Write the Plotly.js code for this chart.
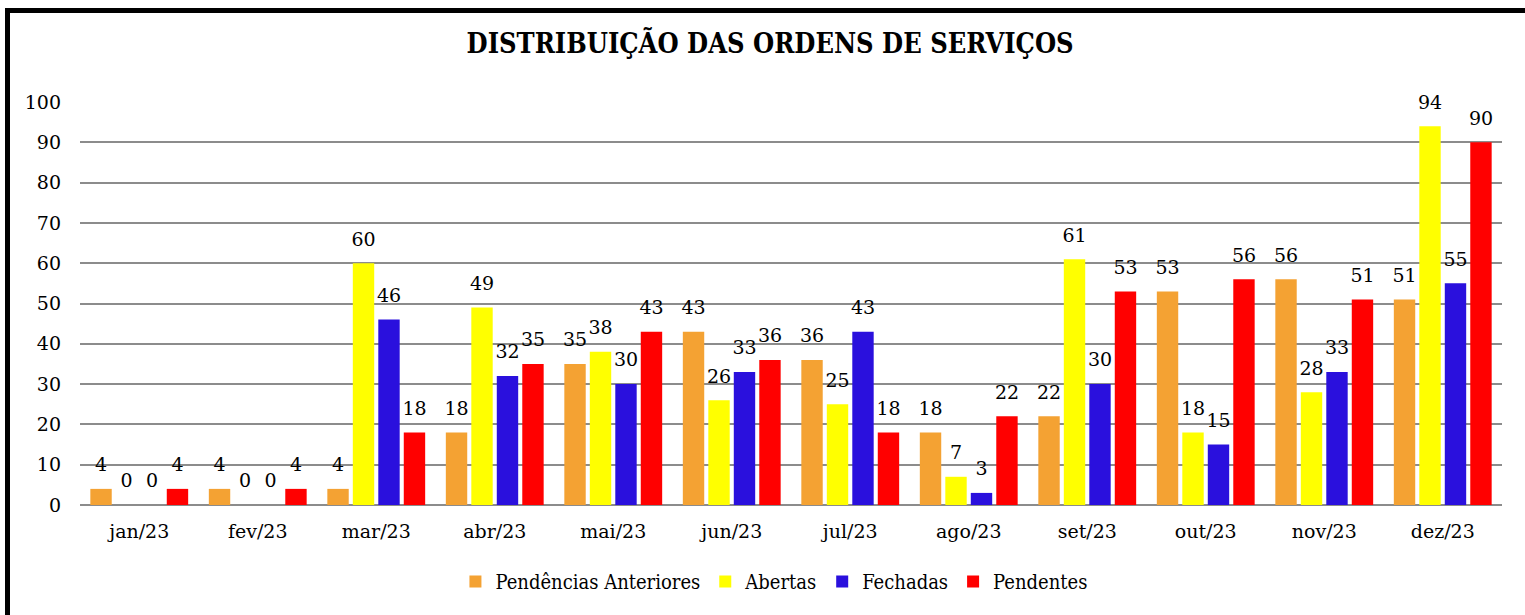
<!DOCTYPE html>
<html>
<head>
<meta charset="utf-8">
<script src="https://cdn.plot.ly/plotly-3.0.1.min.js"></script>
<style>
  html, body { margin: 0; padding: 0; background: #fff; overflow: hidden; }
  #chart { position: absolute; left: 0; top: 0; width: 1525px; height: 615px; }
  #frame { position: absolute; left: 5px; top: 8px; width: 1600px; height: 700px;
           border-left: 5px solid #000; border-top: 5px solid #000; pointer-events: none; }
</style>
</head>
<body>
<div id="chart"></div>
<div id="frame"></div>
<script>
const months = ['jan/23','fev/23','mar/23','abr/23','mai/23','jun/23','jul/23','ago/23','set/23','out/23','nov/23','dez/23'];
const pendenciasAnteriores = [4, 4, 4, 18, 35, 43, 36, 18, 22, 53, 56, 51];
const abertas = [0, 0, 60, 49, 38, 26, 25, 7, 61, 18, 28, 94];
const fechadas = [0, 0, 46, 32, 30, 33, 43, 3, 30, 15, 33, 55];
const pendentes = [4, 4, 18, 35, 43, 36, 18, 22, 53, 56, 51, 90];
const yTicks = [0, 10, 20, 30, 40, 50, 60, 70, 80, 90, 100];

const seriesNames = ['Pendências Anteriores', 'Abertas', 'Fechadas', 'Pendentes'];
const seriesValues = [pendenciasAnteriores, abertas, fechadas, pendentes];
const seriesColors = ['#F4A233', '#FFFF00', '#2A10DD', '#FF0000'];

const labelFont = {family: 'DejaVu Serif', size: 19, color: '#000'};
const bargap = 0.14;

const bars = seriesNames.map((name, i) => ({
  type: 'bar', name: name, x: months, y: seriesValues[i],
  marker: {color: seriesColors[i], line: {width: 0}},
  hoverinfo: 'skip'
}));

const labels = seriesNames.map((name, i) => ({
  type: 'scatter', mode: 'markers+text', x: months, y: seriesValues[i],
  text: seriesValues[i].map(String), textposition: 'top center',
  textfont: labelFont, showlegend: false, hoverinfo: 'skip', cliponaxis: false,
  marker: {size: 19, opacity: 0, color: seriesColors[i]}
}));

const layout = {
  width: 1525, height: 615,
  margin: {l: 80, r: 23, t: 102, b: 110},
  paper_bgcolor: '#ffffff', plot_bgcolor: '#ffffff',
  barmode: 'group', bargap: bargap, bargroupgap: 0.16,
  scattermode: 'group', scattergap: bargap,
  title: {text: 'DISTRIBUIÇÃO DAS ORDENS DE SERVIÇOS',
          font: {family: 'DejaVu Serif Condensed', size: 27, color: '#000', weight: 'bold'},
          x: 0.505, xanchor: 'center', y: 0.93, yanchor: 'middle'},
  xaxis: {type: 'category', tickfont: labelFont, showgrid: false, showline: false,
          zeroline: false, ticks: '', ticklabelstandoff: 13, fixedrange: true},
  yaxis: {range: [0, 100], tickvals: yTicks, tickfont: labelFont, showgrid: true,
          gridcolor: '#8c8c8c', gridwidth: 2, zeroline: true, zerolinecolor: '#8c8c8c',
          zerolinewidth: 2, showline: false, ticks: '', ticklabelstandoff: 18, fixedrange: true},
  legend: {orientation: 'h', x: 0.488, xanchor: 'center', y: -0.19, yanchor: 'middle',
           font: {family: 'DejaVu Serif Condensed', size: 20, color: '#000'},
           itemwidth: 30, traceorder: 'normal'},
  showlegend: true
};

Plotly.newPlot('chart', bars.concat(labels), layout, {displayModeBar: false, staticPlot: true});
</script>
</body>
</html>
